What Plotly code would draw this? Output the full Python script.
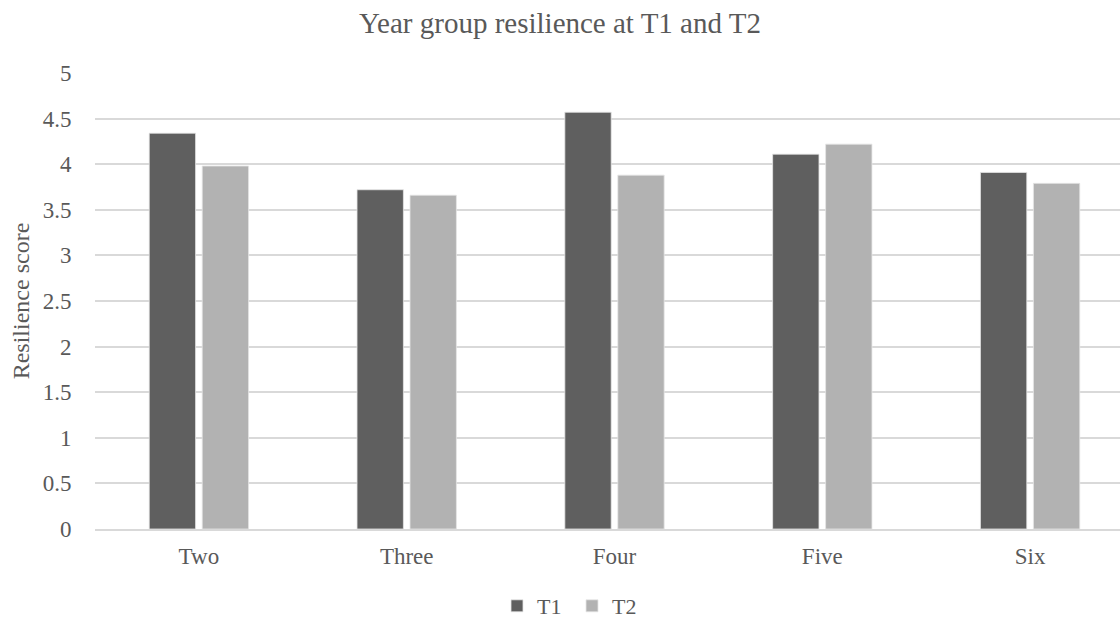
import plotly.graph_objects as go

categories = ["Two", "Three", "Four", "Five", "Six"]
t1_values = [4.34, 3.72, 4.57, 4.11, 3.91]
t2_values = [3.98, 3.66, 3.88, 4.22, 3.79]
y_ticks = [0, 0.5, 1, 1.5, 2, 2.5, 3, 3.5, 4, 4.5, 5]
y_tick_labels = ["0", "0.5", "1", "1.5", "2", "2.5", "3", "3.5", "4", "4.5", "5"]

font_family = "Liberation Serif, Times New Roman, serif"
text_color = "#595959"

fig = go.Figure()
fig.add_trace(go.Bar(name="T1", x=categories, y=t1_values,
                     marker=dict(color="#5f5f5f", line=dict(color="#e6e6e6", width=0.8))))
fig.add_trace(go.Bar(name="T2", x=categories, y=t2_values,
                     marker=dict(color="#b2b2b2", line=dict(color="#e6e6e6", width=0.8))))

fig.update_layout(
    width=1120, height=618,
    margin=dict(l=95, r=0, t=73, b=89),
    paper_bgcolor="white", plot_bgcolor="white",
    barmode="group", bargap=0.49, bargroupgap=0.125,
    font=dict(family=font_family, color=text_color, size=22),
    title=dict(text="Year group resilience at T1 and T2", x=0.5, xref="container",
               y=1 - 23 / 618, yref="container", xanchor="center", yanchor="middle",
               font=dict(size=29, color=text_color, family=font_family)),
    legend=dict(orientation="h", xref="container", x=572 / 1120, xanchor="center",
                yref="container", y=1 - 606 / 618, yanchor="middle",
                font=dict(size=22, color=text_color), itemwidth=30, traceorder="normal",
                entrywidth=30, entrywidthmode="pixels"),
    showlegend=True,
)
fig.update_xaxes(range=[-0.5, 4.5 - 14 / 207.7], showgrid=False, showline=True,
                 linecolor="#d9d9d9", linewidth=1.5, ticks="outside", ticklen=6,
                 tickcolor="rgba(0,0,0,0)", tickfont=dict(size=23, color=text_color),
                 automargin=False)
fig.update_yaxes(range=[0, 5], tickvals=y_ticks, ticktext=y_tick_labels,
                 showgrid=True, gridcolor="#d9d9d9", gridwidth=1.5, zeroline=False,
                 ticks="outside", ticklen=18, tickcolor="rgba(0,0,0,0)",
                 tickfont=dict(size=23, color=text_color), automargin=False,
                 title=dict(text="Resilience score", font=dict(size=24, color=text_color),
                            standoff=6))

fig.write_html("out.html")
